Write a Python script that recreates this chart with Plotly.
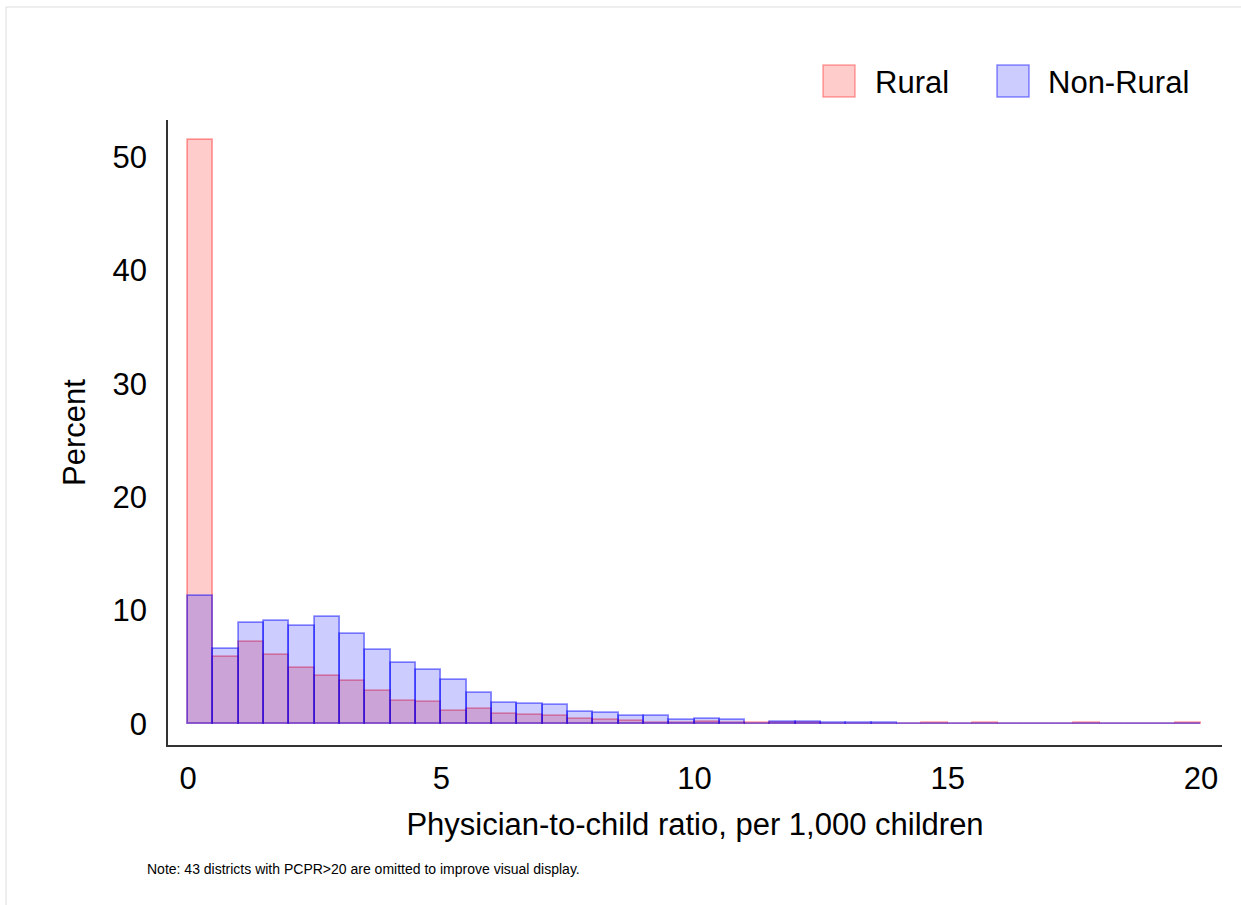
import plotly.graph_objects as go

# ---- data ----
bin_width = 0.5
bin_starts = [i * 0.5 for i in range(40)]
rural_pct = [51.5, 5.9, 7.2, 6.05, 4.9, 4.25, 3.8, 2.95, 2.05, 1.95,
             1.17, 1.28, 0.87, 0.78, 0.7, 0.48, 0.35, 0.27, 0.12, 0.13,
             0.2, 0.13, 0.05, 0.05, 0.05, 0.03, 0.03, 0.03, 0.03, 0.05,
             0.02, 0.05, 0.02, 0.02, 0.02, 0.05, 0.02, 0.02, 0.02, 0.05]
nonrural_pct = [11.3, 6.6, 8.92, 9.1, 8.63, 9.4, 7.92, 6.55, 5.4, 4.8,
                3.92, 2.74, 1.87, 1.8, 1.66, 1.02, 0.98, 0.67, 0.67, 0.36,
                0.47, 0.36, 0.04, 0.15, 0.18, 0.1, 0.05, 0.08, 0.04, 0.04,
                0.04, 0.04, 0.04, 0.04, 0.04, 0.04, 0.04, 0.04, 0.04, 0.04]
x_ticks = [0, 5, 10, 15, 20]
y_ticks = [0, 10, 20, 30, 40, 50]
series_names = ["Rural", "Non-Rural"]

centers = [s + bin_width / 2 for s in bin_starts]

W, H = 1241, 905
L, R, T, B = 168, 1222, 120, 745  # plot area in pixels


def px(xp):
    return (xp - L) / (R - L)


def py(yp):
    return (B - yp) / (B - T)


RED_FILL = "rgba(255,0,0,0.2)"
RED_LINE = "rgba(255,0,0,0.35)"
BLUE_FILL = "rgba(0,0,255,0.2)"
BLUE_LINE = "rgba(0,0,255,0.45)"

fig = go.Figure()
fig.add_trace(go.Bar(x=centers, y=rural_pct, width=bin_width, name=series_names[0],
                     marker=dict(color=RED_FILL, line=dict(color=RED_LINE, width=1.8))))
fig.add_trace(go.Bar(x=centers, y=nonrural_pct, width=bin_width, name=series_names[1],
                     marker=dict(color=BLUE_FILL, line=dict(color=BLUE_LINE, width=1.8))))

font_family = "Liberation Sans, Arial, Helvetica, sans-serif"
FS = 31

shapes = []
annotations = []
# legend (manual, large squares)
legend_items = [(series_names[0], RED_FILL, RED_LINE, 823, 873),
                (series_names[1], BLUE_FILL, BLUE_LINE, 997, 1046)]
for name, fill, line, sx, tx in legend_items:
    shapes.append(dict(type="rect", xref="paper", yref="paper",
                       x0=px(sx), x1=px(sx + 32), y0=py(97), y1=py(65),
                       fillcolor=fill, line=dict(color=line, width=1.5)))
    annotations.append(dict(xref="paper", yref="paper", x=px(tx), y=py(82),
                            text=name, showarrow=False, xanchor="left", yanchor="middle",
                            font=dict(size=FS, color="black", family=font_family)))
# note
annotations.append(dict(xref="paper", yref="paper", x=px(145), y=py(869),
                        text="Note: 43 districts with PCPR>20 are omitted to improve visual display.",
                        showarrow=False, xanchor="left", yanchor="middle",
                        font=dict(size=14, color="black", family=font_family)))
# faint page frame
shapes.append(dict(type="line", xref="paper", yref="paper", x0=px(6), x1=px(1245),
                   y0=py(7), y1=py(7), line=dict(color="#dddddd", width=1)))
shapes.append(dict(type="line", xref="paper", yref="paper", x0=px(6), x1=px(6),
                   y0=py(7), y1=py(910), line=dict(color="#dddddd", width=1)))

x_per_px = 20 / (1201 - 188)
y_per_px = 50 / (724 - 157)
x_range = [0 - (188 - L) * x_per_px, 20 + (R - 1201) * x_per_px]
y_range = [0 - (B - 724) * y_per_px, 50 + (157 - T) * y_per_px]

fig.update_layout(
    width=W, height=H,
    margin=dict(l=L, r=W - R, t=T, b=H - B, pad=0),
    barmode="overlay",
    bargap=0,
    showlegend=False,
    plot_bgcolor="white",
    paper_bgcolor="white",
    font=dict(family=font_family, color="black", size=FS),
    xaxis=dict(range=x_range, tickvals=x_ticks, ticktext=[str(v) for v in x_ticks],
               showgrid=False, zeroline=False, showline=True, linecolor="#333333",
               linewidth=1.5, ticks="", ticklabelstandoff=5,
               tickfont=dict(size=FS),
               title=dict(text="Physician-to-child ratio, per 1,000 children",
                          font=dict(size=FS), standoff=18)),
    yaxis=dict(range=y_range, tickvals=y_ticks, ticktext=[str(v) for v in y_ticks],
               showgrid=False, zeroline=False, showline=True, linecolor="#333333",
               linewidth=1.5, ticks="", ticklabelstandoff=13,
               tickfont=dict(size=FS),
               title=dict(text="Percent", font=dict(size=FS), standoff=18)),
    shapes=shapes,
    annotations=annotations,
)

fig.write_html("out.html", config={"displayModeBar": False},
               post_script="document.body.style.margin='0';document.body.style.overflow='hidden';")
